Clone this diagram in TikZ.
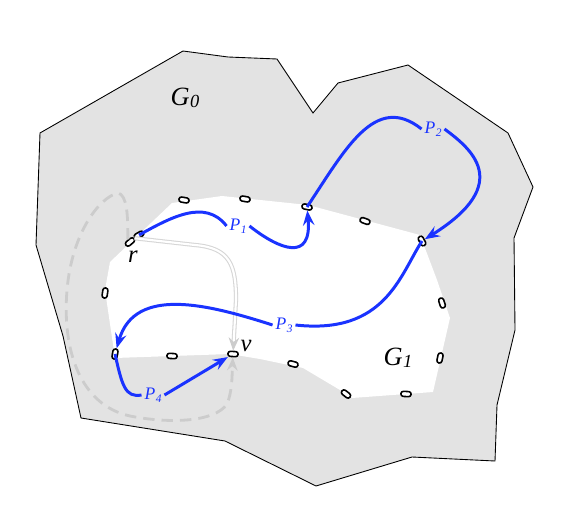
\documentclass[tikz,border=0pt]{standalone}
\usepackage{fontspec}
\setmainfont{Liberation Serif}
\usetikzlibrary{arrows.meta}
\definecolor{pathblue}{HTML}{1A33FF}
\definecolor{regiongray}{HTML}{E3E3E3}
\definecolor{ghost}{HTML}{CCCCCC}
\tikzset{
  port/.style={draw=black, fill=white, line width=0.9pt, rounded corners=1.4pt,
    minimum width=5.8pt, minimum height=2.9pt, inner sep=0pt},
  route/.style={draw=pathblue, line width=1.7pt},
  routetip/.style={-{Stealth[length=8.5pt,width=6.5pt,inset=3pt]}},
  plabel/.style={text=pathblue, inner sep=1.5pt, font=\fontsize{10}{12}\selectfont\itshape},
  glabel/.style={inner sep=1pt, font=\fontsize{15}{17}\selectfont\itshape},
  vlabel/.style={inner sep=1pt, font=\fontsize{14}{16}\selectfont\itshape},
  ghostdash/.style={draw=ghost, line width=1.6pt, dash pattern=on 6.5pt off 4pt},
  ghostdouble/.style={draw=ghost!80, line width=0.6pt, double=white, double distance=1.2pt},
  ghosttip/.style={-{Stealth[length=7.5pt,width=6pt,inset=2.5pt,color=ghost]}}
}
\newcommand{\plab}[1]{P\kern0.3pt\raisebox{-0.35ex}{\fontsize{6.5}{7}\selectfont #1}}
\newcommand{\glab}[1]{G\kern0.3pt\raisebox{-0.15ex}{\fontsize{10.5}{12}\selectfont #1}}
\begin{document}
\begin{tikzpicture}[x=0.02cm,y=-0.02cm]
\useasboundingbox (0,0) rectangle (580,509);
% outer region G0
\draw[fill=regiongray, draw=black, line width=0.5pt]
  (183,51) -- (228,57) -- (277,59) -- (313,113) -- (338,83) -- (408,65) -- (508,133)
  -- (533,187) -- (514,238) -- (515,330) -- (497,405) -- (495,461) -- (412,457)
  -- (316,486) -- (225,441) -- (81,418) -- (63,336) -- (36,245) -- (40,133) -- cycle;
% inner region G1
\fill[white] (172,203) -- (222,196) -- (308,205) -- (420,235) -- (437,280) -- (450,318)
  -- (433,392) -- (352,398) -- (340,390) -- (303,368) -- (260,359) -- (230,354)
  -- (115,358) -- (105,290) -- (110,262) -- cycle;
% ports
\node[port, rotate=-10] (q1) at (184,200) {};
\node[port, rotate=-10] (q2) at (245,199) {};
\node[port, rotate=-12] (q3) at (307,207) {};
\node[port, rotate=-20] (q4) at (365,221) {};
\node[port, rotate=-62] (q5) at (422,241) {};
\node[port, rotate=-72] (q6) at (442,303) {};
\node[port, rotate=78] (q7) at (440,358) {};
\node[port, rotate=-3] (q8) at (406,394) {};
\node[port, rotate=-38] (q9) at (346,394) {};
\node[port, rotate=-15] (q10) at (293,364) {};
\node[port, rotate=-3] (v) at (233,354) {};
\node[port, rotate=-3] (q12) at (172,356) {};
\node[port, rotate=80] (q13) at (115,354) {};
\node[port, rotate=82] (q14) at (105,293) {};
\node[port, rotate=30] (q15) at (139,235) {};
\node[port, rotate=40] (r) at (130,242) {};
% labels
\node[glabel] (lG0) at (185,98) {\glab{0}};
\node[glabel] (lG1) at (398,358) {\glab{1}};
\node[vlabel] (lr) at (133,257) {r};
\node[vlabel] (lv) at (246,346) {v};
\node[plabel] (lP1) at (238,226) {\plab{1}};
\node[plabel] (lP2) at (433,129) {\plab{2}};
\node[plabel] (lP3) at (284,325) {\plab{3}};
\node[plabel] (lP4) at (153,395) {\plab{4}};
% ghost paths
\draw[ghostdash, ghosttip] (r.north) .. controls (128,215) and (127,195) .. (118,193)
  .. controls (100,197) and (72,232) .. (67,290)
  .. controls (62,350) and (80,405) .. (130,416)
  .. controls (170,424) and (215,422) .. (227,404)
  .. controls (232,392) and (232,378) .. (v.south);
\draw[ghostdouble, ghosttip] (r.east) -- (195,245) .. controls (230,248) and (236,265) .. (236,300) -- (v.north);
% blue paths
\draw[route] (q15.center) .. controls (170,218) and (205,198) .. (lP1.west);
\draw[route, routetip] (lP1.east) .. controls (280,250) and (312,262) .. (q3);
\draw[route] (q3.center) .. controls (345,150) and (375,92) .. (lP2.west);
\draw[route, routetip] (lP2.east) .. controls (470,148) and (515,183) .. (q5);
\draw[route] (q5.center) .. controls (400,275) and (385,335) .. (lP3.east);
\draw[route, routetip] (lP3.west) .. controls (210,305) and (135,285) .. (q13);
\draw[route] (q13.center) .. controls (122,385) and (125,398) .. (lP4.west);
\draw[route, routetip] (lP4.east) -- (v);
\end{tikzpicture}
\end{document}
